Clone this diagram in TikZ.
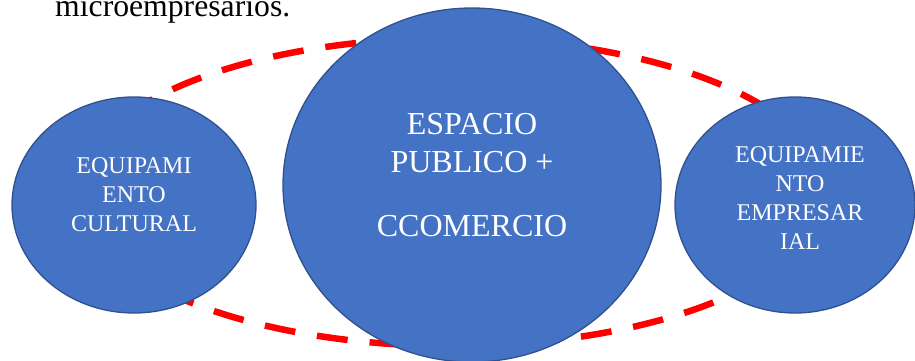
\documentclass[tikz,border=0pt]{standalone}
\usepackage{fontspec}
\setmainfont{Liberation Serif}
\usepackage{xcolor}
\usepackage{tikz}
\usetikzlibrary{shapes.geometric}

\definecolor{officeblue}{HTML}{4472C4}
\definecolor{blueedge}{HTML}{2F528F}

\begin{document}
\begin{tikzpicture}[
	x=1pt, y=1pt,
	bubble/.style={ellipse, draw=blueedge, line width=1.3pt, fill=officeblue, inner sep=0pt},
	smalltxt/.style={align=center, text=white, font=\fontsize{24}{29}\selectfont},
	bigtxt/.style={align=center, text=white, font=\fontsize{32}{38}\selectfont},
	ring/.style={draw=red, line width=6.5pt, dash pattern=on 31pt off 22pt}
]
\useasboundingbox (0,0) rectangle (915,361);
\clip (0,0) rectangle (915,361);

\node[anchor=base west, font=\fontsize{31.7}{38}\selectfont, inner sep=0pt] (caption) at (55,344) {microempresarios.};

% red dashed ring behind
\draw[ring] (452,169) ellipse [x radius=375, y radius=154];

\node[bubble, minimum width=244pt, minimum height=216pt] (cultural) at (134,156) {};
\node[bubble, minimum width=378pt, minimum height=354pt] (espacio) at (472,176) {};
\node[bubble, minimum width=240pt, minimum height=216pt] (empresa) at (795,156) {};

\node[smalltxt] (cultxt) at ([yshift=10pt]cultural.center) {EQUIPAMI\\ENTO\\CULTURAL};
\node[bigtxt] (esptxt) at ([yshift=10pt]espacio.center) {ESPACIO\\PUBLICO +\\[26pt]CCOMERCIO};
\node[smalltxt] (emptxt) at ([xshift=5pt, yshift=6.5pt]empresa.center) {EQUIPAMIE\\NTO\\EMPRESAR\\IAL};

\end{tikzpicture}
\end{document}
